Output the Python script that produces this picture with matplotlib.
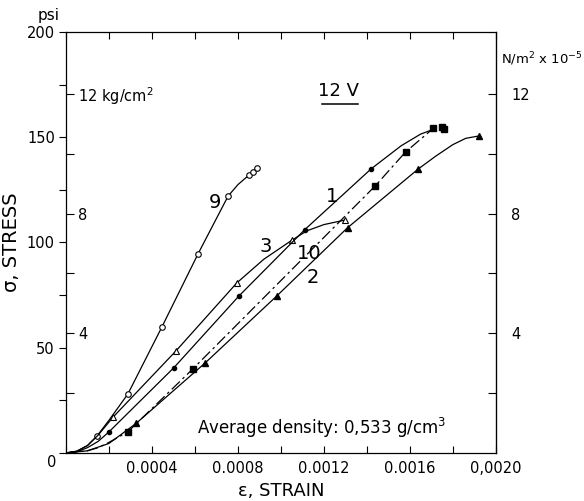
import matplotlib
matplotlib.use('Agg')
import matplotlib.pyplot as plt
from matplotlib.ticker import MultipleLocator, FixedLocator, FixedFormatter

plt.rcParams['font.family'] = ['DejaVu Sans']

KG = 14.22  # psi per kg/cm2 (both side scales)

# curve 9 - open circles
c9_line_x = [0, 0.00005, 0.0001, 0.000144, 0.0002, 0.000288, 0.000447, 0.000614, 0.000754, 0.0008, 0.000851, 0.000888]
c9_line_y = [0, 0.8, 3.5, 8, 15.5, 28, 60, 94.5, 122, 127.5, 132, 135.4]
c9_x = [0.000144, 0.000288, 0.000447, 0.000614, 0.000754, 0.000851, 0.00087, 0.000888]
c9_y = [8, 28, 60, 94.5, 122, 132, 133.5, 135.4]

# curve 3 - open triangles
c3_line_x = [0, 0.00005, 0.0001, 0.00015, 0.000219, 0.000512, 0.000795, 0.00092, 0.00105, 0.00112, 0.0012, 0.0013]
c3_line_y = [0, 0.8, 3.5, 8.5, 17, 48.5, 80.8, 92, 101, 105.5, 108.5, 110.7]
c3_x = [0.000219, 0.000512, 0.000795, 0.00105, 0.0013]
c3_y = [17, 48.5, 80.8, 101, 110.7]

# curve 1 - small dots
c1_line_x = [0, 0.00005, 0.0001, 0.00015, 0.0002, 0.000502, 0.000805, 0.00111, 0.00142, 0.00156, 0.00165, 0.00171]
c1_line_y = [0, 0.5, 2.5, 5.5, 10, 40.5, 74.6, 106, 135, 146, 151.5, 153.8]
c1_x = [0.0002, 0.000502, 0.000805, 0.00111, 0.00142]
c1_y = [10, 40.5, 74.6, 106, 135]

# curve 10 - filled squares, dash-dot
c10_line_x = [0, 0.0001, 0.00015, 0.0002, 0.000288, 0.000591, 0.00144, 0.00158, 0.00171]
c10_line_y = [0, 1, 2.5, 5, 10, 40, 127, 143, 154.3]
c10_x = [0.000288, 0.000591, 0.00144, 0.00158, 0.00171, 0.00175, 0.00176]
c10_y = [10, 40, 127, 143, 154.3, 155, 154]

# curve 2 - filled triangles
c2_line_x = [0, 0.0001, 0.0002, 0.000326, 0.000647, 0.000981, 0.00131, 0.00164, 0.00172, 0.0018, 0.00186, 0.00192]
c2_line_y = [0, 1, 4.5, 14, 42.7, 74.6, 107, 135, 141, 146.5, 149.5, 150.6]
c2_x = [0.000326, 0.000647, 0.000981, 0.00131, 0.00164, 0.00192]
c2_y = [14, 42.7, 74.6, 107, 135, 150.6]

x_ticks = [0.0004, 0.0008, 0.0012, 0.0016, 0.0020]
x_labels = ['0.0004', '0.0008', '0.0012', '0.0016', '0,0020']
psi_ticks = [50, 100, 150, 200]
kg_ticks = [2, 4, 6, 8, 10, 12]
kg_labels = ['', '4', '', '8', '', '12 kg/cm$^2$']
nm_labels = ['', '4', '', '8', '', '12']

fig = plt.figure(figsize=(5.84, 5.01), dpi=100)
ax = fig.add_axes([0.113, 0.096, 0.736, 0.840])

lw = 0.9
ax.plot(c9_line_x, c9_line_y, color='black', lw=lw)
ax.plot(c9_x, c9_y, 'o', ms=4, mfc='white', mec='black', mew=0.8)
ax.plot(c3_line_x, c3_line_y, color='black', lw=lw)
ax.plot(c3_x, c3_y, '^', ms=4.5, mfc='white', mec='black', mew=0.8)
ax.plot(c1_line_x, c1_line_y, color='black', lw=lw)
ax.plot(c1_x, c1_y, 'o', ms=3, color='black')
ax.plot(c10_line_x, c10_line_y, color='black', lw=lw, dashes=(9, 3, 2, 3))
ax.plot(c10_x, c10_y, 's', ms=4, color='black')
ax.plot(c2_line_x, c2_line_y, color='black', lw=lw)
ax.plot(c2_x, c2_y, '^', ms=4.5, color='black')

ax.set_xlim(0, 0.002)
ax.set_ylim(0, 200)

ax.xaxis.set_major_locator(FixedLocator(x_ticks))
ax.xaxis.set_major_formatter(FixedFormatter(x_labels))
ax.xaxis.set_minor_locator(MultipleLocator(0.0002))
ax.tick_params(axis='x', which='both', direction='in', top=True, length=5, width=0.8,
               labelsize=10.5, pad=6)
ax.yaxis.set_major_locator(FixedLocator(psi_ticks))
ax.yaxis.set_minor_locator(MultipleLocator(25))
ax.tick_params(axis='y', which='both', direction='out', right=False, length=5, width=0.8,
               labelsize=10.5, pad=3)
for s in ax.spines.values():
    s.set_linewidth(0.9)

# kg/cm2 scale inside the left axis
sec_l = ax.secondary_yaxis('left', functions=(lambda p: p / KG, lambda k: k * KG))
sec_l.spines['left'].set_visible(False)
sec_l.yaxis.set_major_locator(FixedLocator(kg_ticks))
sec_l.yaxis.set_major_formatter(FixedFormatter(kg_labels))
sec_l.tick_params(direction='in', length=6, width=0.8, labelsize=10.5, pad=-9)
for lbl in sec_l.get_yticklabels():
    lbl.set_horizontalalignment('left')

# N/m2 x 10^-5 scale on the right
sec_r = ax.secondary_yaxis('right', functions=(lambda p: p / KG, lambda k: k * KG))
sec_r.yaxis.set_major_locator(FixedLocator(kg_ticks))
sec_r.yaxis.set_major_formatter(FixedFormatter(nm_labels))
sec_r.tick_params(direction='in', length=6, width=0.8, labelsize=10.5, pad=11)

ax.annotate('0', (0, 0), xytext=(-10, -7), textcoords='offset points',
            ha='center', va='center', fontsize=10.5)
ax.text(-0.067, 1.04, 'psi', transform=ax.transAxes, fontsize=11, ha='left', va='center')
ax.text(1.012, 0.935, 'N/m$^2$ x 10$^{-5}$', transform=ax.transAxes, fontsize=9.5,
        ha='left', va='center')

ax.set_xlabel('ε, STRAIN', fontsize=13, labelpad=4)
ax.set_ylabel('σ, STRESS', fontsize=14, labelpad=4)

# curve numbers
ax.text(0.000694, 119, '9', fontsize=14, ha='center', va='center')
ax.text(0.00093, 98, '3', fontsize=14, ha='center', va='center')
ax.text(0.00124, 122, '1', fontsize=14, ha='center', va='center')
ax.text(0.00113, 95, '10', fontsize=14, ha='center', va='center')
ax.text(0.00115, 83.5, '2', fontsize=14, ha='center', va='center')

ax.text(0.00127, 172, '12 V', fontsize=13, ha='center', va='center')
ax.plot([0.00119, 0.00136], [166, 166], color='black', lw=1.1)
ax.text(0.00061, 12, 'Average density: 0,533 g/cm$^3$', fontsize=12, ha='left', va='center')

fig.savefig('out.png', dpi=100)
